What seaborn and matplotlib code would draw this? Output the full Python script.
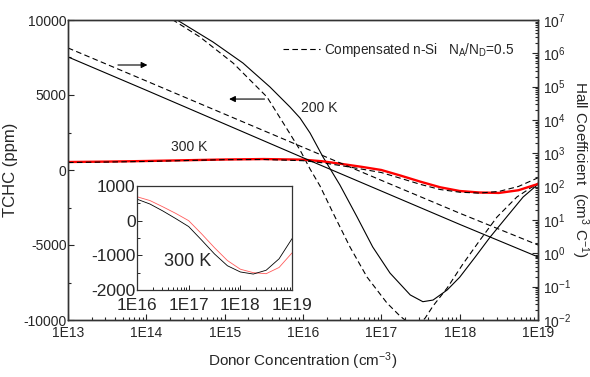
import math
import matplotlib
matplotlib.use("Agg")
import matplotlib.pyplot as plt
import seaborn as sns
from matplotlib.lines import Line2D
from matplotlib.ticker import FixedLocator, MultipleLocator, LogLocator, NullFormatter, FuncFormatter

# ---------------- data ----------------
# Hall coefficient (right axis, cm^3/C), straight lines
N_hall = [1e13, 1e14, 1e15, 1e16, 1e17, 1e18, 1e19]
hall_uncomp = [7.8e5, 7.8e4, 7.6e3, 7.4e2, 74, 7.4, 0.78]
hall_comp = [1.45e6, 1.48e5, 1.5e4, 1.52e3, 1.55e2, 16.0, 1.78]

# TCHC at 200 K (left axis, ppm)
N_200_solid = [1.12e14, 2.47e14, 7.1e14, 1.71e15, 3.79e15, 6.82e15, 9.16e15, 1.23e16,
               1.8e16, 2.96e16, 4.9e16, 7.76e16, 1.29e17, 2.34e17, 3.39e17, 4.57e17,
               6.92e17, 1e18, 1.58e18, 2.45e18, 3.98e18, 6.46e18, 1e19]
tchc_200_solid = [11000, 10000, 8533, 7133, 5533, 4200, 3467, 2467,
                  867, -1000, -3130, -5130, -6870, -8330, -8780, -8670,
                  -8000, -7150, -5800, -4470, -3130, -1800, -950]

N_200_dash = [1.11e14, 2.19e14, 4.84e14, 1.28e15, 3.47e15, 6.25e15, 9.16e15, 1.23e16,
              1.65e16, 2.42e16, 3.98e16, 6.56e16, 1.18e17, 1.73e17, 2.32e17, 3.09e17,
              3.63e17, 4.57e17, 6.92e17, 1.1e18, 1.82e18, 3.0e18, 5.37e18, 1e19]
tchc_200_dash = [11000, 10000, 8867, 7133, 4867, 2733, 1333, 67,
                 -1067, -2867, -5133, -7133, -8867, -9733, -10267, -10267,
                 -9867, -9067, -7867, -6267, -4667, -3133, -1800, -867]

# TCHC at 300 K (left axis, ppm)
N_300 = [1e13, 3.16e13, 1e14, 3.16e14, 1e15, 3.16e15, 1e16, 1.78e16, 3.16e16, 5.62e16,
         1e17, 1.78e17, 3.16e17, 5.62e17, 1e18, 1.78e18, 3.16e18, 5.62e18, 1e19]
tchc_300_uncomp = [533, 560, 600, 650, 700, 730, 690, 580, 400, 210,
                   0, -380, -780, -1150, -1400, -1500, -1530, -1350, -930]
tchc_300_comp = [500, 530, 570, 630, 690, 700, 620, 480, 280, 60,
                 -170, -560, -960, -1300, -1480, -1540, -1430, -1100, -520]

x_ticks = [1e13, 1e14, 1e15, 1e16, 1e17, 1e18, 1e19]
x_ticklabels = ["1E13", "1E14", "1E15", "1E16", "1E17", "1E18", "1E19"]
inset_xticks = [1e16, 1e17, 1e18, 1e19]
inset_xticklabels = ["1E16", "1E17", "1E18", "1E19"]
y_ticks = [-10000, -5000, 0, 5000, 10000]
inset_yticks = [-2000, -1000, 0, 1000]
hall_ticks = [1e-2, 1e-1, 1e0, 1e1, 1e2, 1e3, 1e4, 1e5, 1e6, 1e7]

# ---------------- style ----------------
sns.set_style("ticks")
plt.rcParams["font.family"] = ["Liberation Sans", "DejaVu Sans"]
plt.rcParams["axes.unicode_minus"] = False
plt.rcParams["mathtext.fontset"] = "custom"
plt.rcParams["mathtext.rm"] = "Liberation Sans"
plt.rcParams["mathtext.it"] = "Liberation Sans"

fig = plt.figure(figsize=(5.9, 3.77), dpi=100)
ax = fig.add_axes([68 / 590, 1 - 320 / 377, 470 / 590, 300 / 377])
ax2 = ax.twinx()

dash = (5, 3)
# Hall coefficient lines (right axis)
sns.lineplot(x=N_hall, y=hall_uncomp, ax=ax2, color="black", lw=0.8)
sns.lineplot(x=N_hall, y=hall_comp, ax=ax2, color="black", lw=0.8, linestyle=(0, dash))
# TCHC lines (left axis)
sns.lineplot(x=N_200_solid, y=tchc_200_solid, ax=ax, color="black", lw=0.8)
sns.lineplot(x=N_200_dash, y=tchc_200_dash, ax=ax, color="black", lw=0.8, linestyle=(0, dash))
sns.lineplot(x=N_300, y=tchc_300_uncomp, ax=ax, color="#ff0000", lw=1.7)
sns.lineplot(x=N_300, y=tchc_300_comp, ax=ax, color="black", lw=0.8, linestyle=(0, dash))

ax.set_xscale("log")
ax.set_xlim(1e13, 1e19)
ax.set_ylim(-10000, 10000)
ax2.set_yscale("log")
ax2.set_ylim(1e-2, 1e7)

ax.xaxis.set_major_locator(FixedLocator(x_ticks))
ax.set_xticklabels(x_ticklabels)
ax.xaxis.set_minor_locator(LogLocator(base=10, subs=range(2, 10), numticks=100))
ax.xaxis.set_minor_formatter(NullFormatter())
ax.yaxis.set_major_locator(FixedLocator(y_ticks))
ax.yaxis.set_minor_locator(MultipleLocator(2500))
ax.set_yticklabels([str(v) for v in y_ticks])
ax.tick_params(axis="both", which="both", direction="in", labelsize=10, width=0.8)
ax.tick_params(axis="both", which="major", length=4)
ax.tick_params(axis="both", which="minor", length=2.5)
ax.tick_params(axis="x", pad=4)
ax.tick_params(axis="y", pad=1)

ax2.yaxis.set_major_locator(FixedLocator(hall_ticks))
ax2.yaxis.set_minor_locator(LogLocator(base=10, subs=range(2, 10), numticks=100))
ax2.yaxis.set_minor_formatter(NullFormatter())
ax2.yaxis.set_major_formatter(FuncFormatter(lambda v, p: r"$10^{%d}$" % round(math.log10(v))))
ax2.tick_params(axis="y", which="both", direction="in", labelsize=10, width=0.8)
ax2.tick_params(axis="y", which="major", length=4)
ax2.tick_params(axis="y", which="minor", length=2.5)

for a in (ax, ax2):
    for s in a.spines.values():
        s.set_linewidth(1.0)
        s.set_color("#333333")

ax.set_xlabel("Donor Concentration (cm$^{-3}$)", fontsize=11, labelpad=8)
ax.set_ylabel("TCHC (ppm)", fontsize=12, labelpad=4)
ax2.set_ylabel("Hall Coefficient  (cm$^{3}$ C$^{-1}$)", fontsize=11, rotation=270, labelpad=14)

# text labels
ax.text(3.5e14, 1530, "300 K", fontsize=10, ha="center", va="center")
ax.text(1.6e16, 4150, "200 K", fontsize=10, ha="center", va="center")

# arrows
ax.annotate("", xy=(1.12e14, 7000), xytext=(4.0e13, 7000),
            arrowprops=dict(arrowstyle="-|>", color="black", lw=0.8, mutation_scale=9))
ax.annotate("", xy=(1.05e15, 4730), xytext=(3.5e15, 4730),
            arrowprops=dict(arrowstyle="-|>", color="black", lw=0.8, mutation_scale=9))

# legend
h = Line2D([], [], color="black", lw=0.8, linestyle=(0, dash))
fig.legend([h], ["Compensated n-Si   N$_A$/N$_D$=0.5"], loc="center left",
           bbox_to_anchor=(283 / 590, 1 - 50 / 377), frameon=False, fontsize=9.8,
           handlelength=2.7, handletextpad=0.3, borderpad=0, borderaxespad=0)

# inset
axi = fig.add_axes([137 / 590, 1 - 290 / 377, 155 / 590, 104 / 377])
sns.lineplot(x=N_300, y=tchc_300_uncomp, ax=axi, color="#ff5c5c", lw=0.6)
sns.lineplot(x=N_300, y=tchc_300_comp, ax=axi, color="black", lw=0.6)
axi.set_xscale("log")
axi.set_xlim(1e16, 1e19)
axi.set_ylim(-2000, 1000)
axi.xaxis.set_major_locator(FixedLocator(inset_xticks))
axi.set_xticklabels(inset_xticklabels)
axi.xaxis.set_minor_locator(LogLocator(base=10, subs=range(2, 10), numticks=100))
axi.xaxis.set_minor_formatter(NullFormatter())
axi.yaxis.set_major_locator(FixedLocator(inset_yticks))
axi.set_yticklabels([str(v) for v in inset_yticks])
axi.yaxis.set_minor_locator(MultipleLocator(500))
axi.tick_params(axis="both", which="both", direction="in", labelsize=12.5, width=0.7)
axi.tick_params(axis="both", which="major", length=3.5)
axi.tick_params(axis="both", which="minor", length=2)
axi.tick_params(axis="x", pad=6)
axi.tick_params(axis="y", pad=1)
for s in axi.spines.values():
    s.set_linewidth(0.9)
    s.set_color("#333333")
axi.text(9.5e16, -1180, "300 K", fontsize=13, ha="center", va="center")

fig.savefig("out.png", dpi=100)
